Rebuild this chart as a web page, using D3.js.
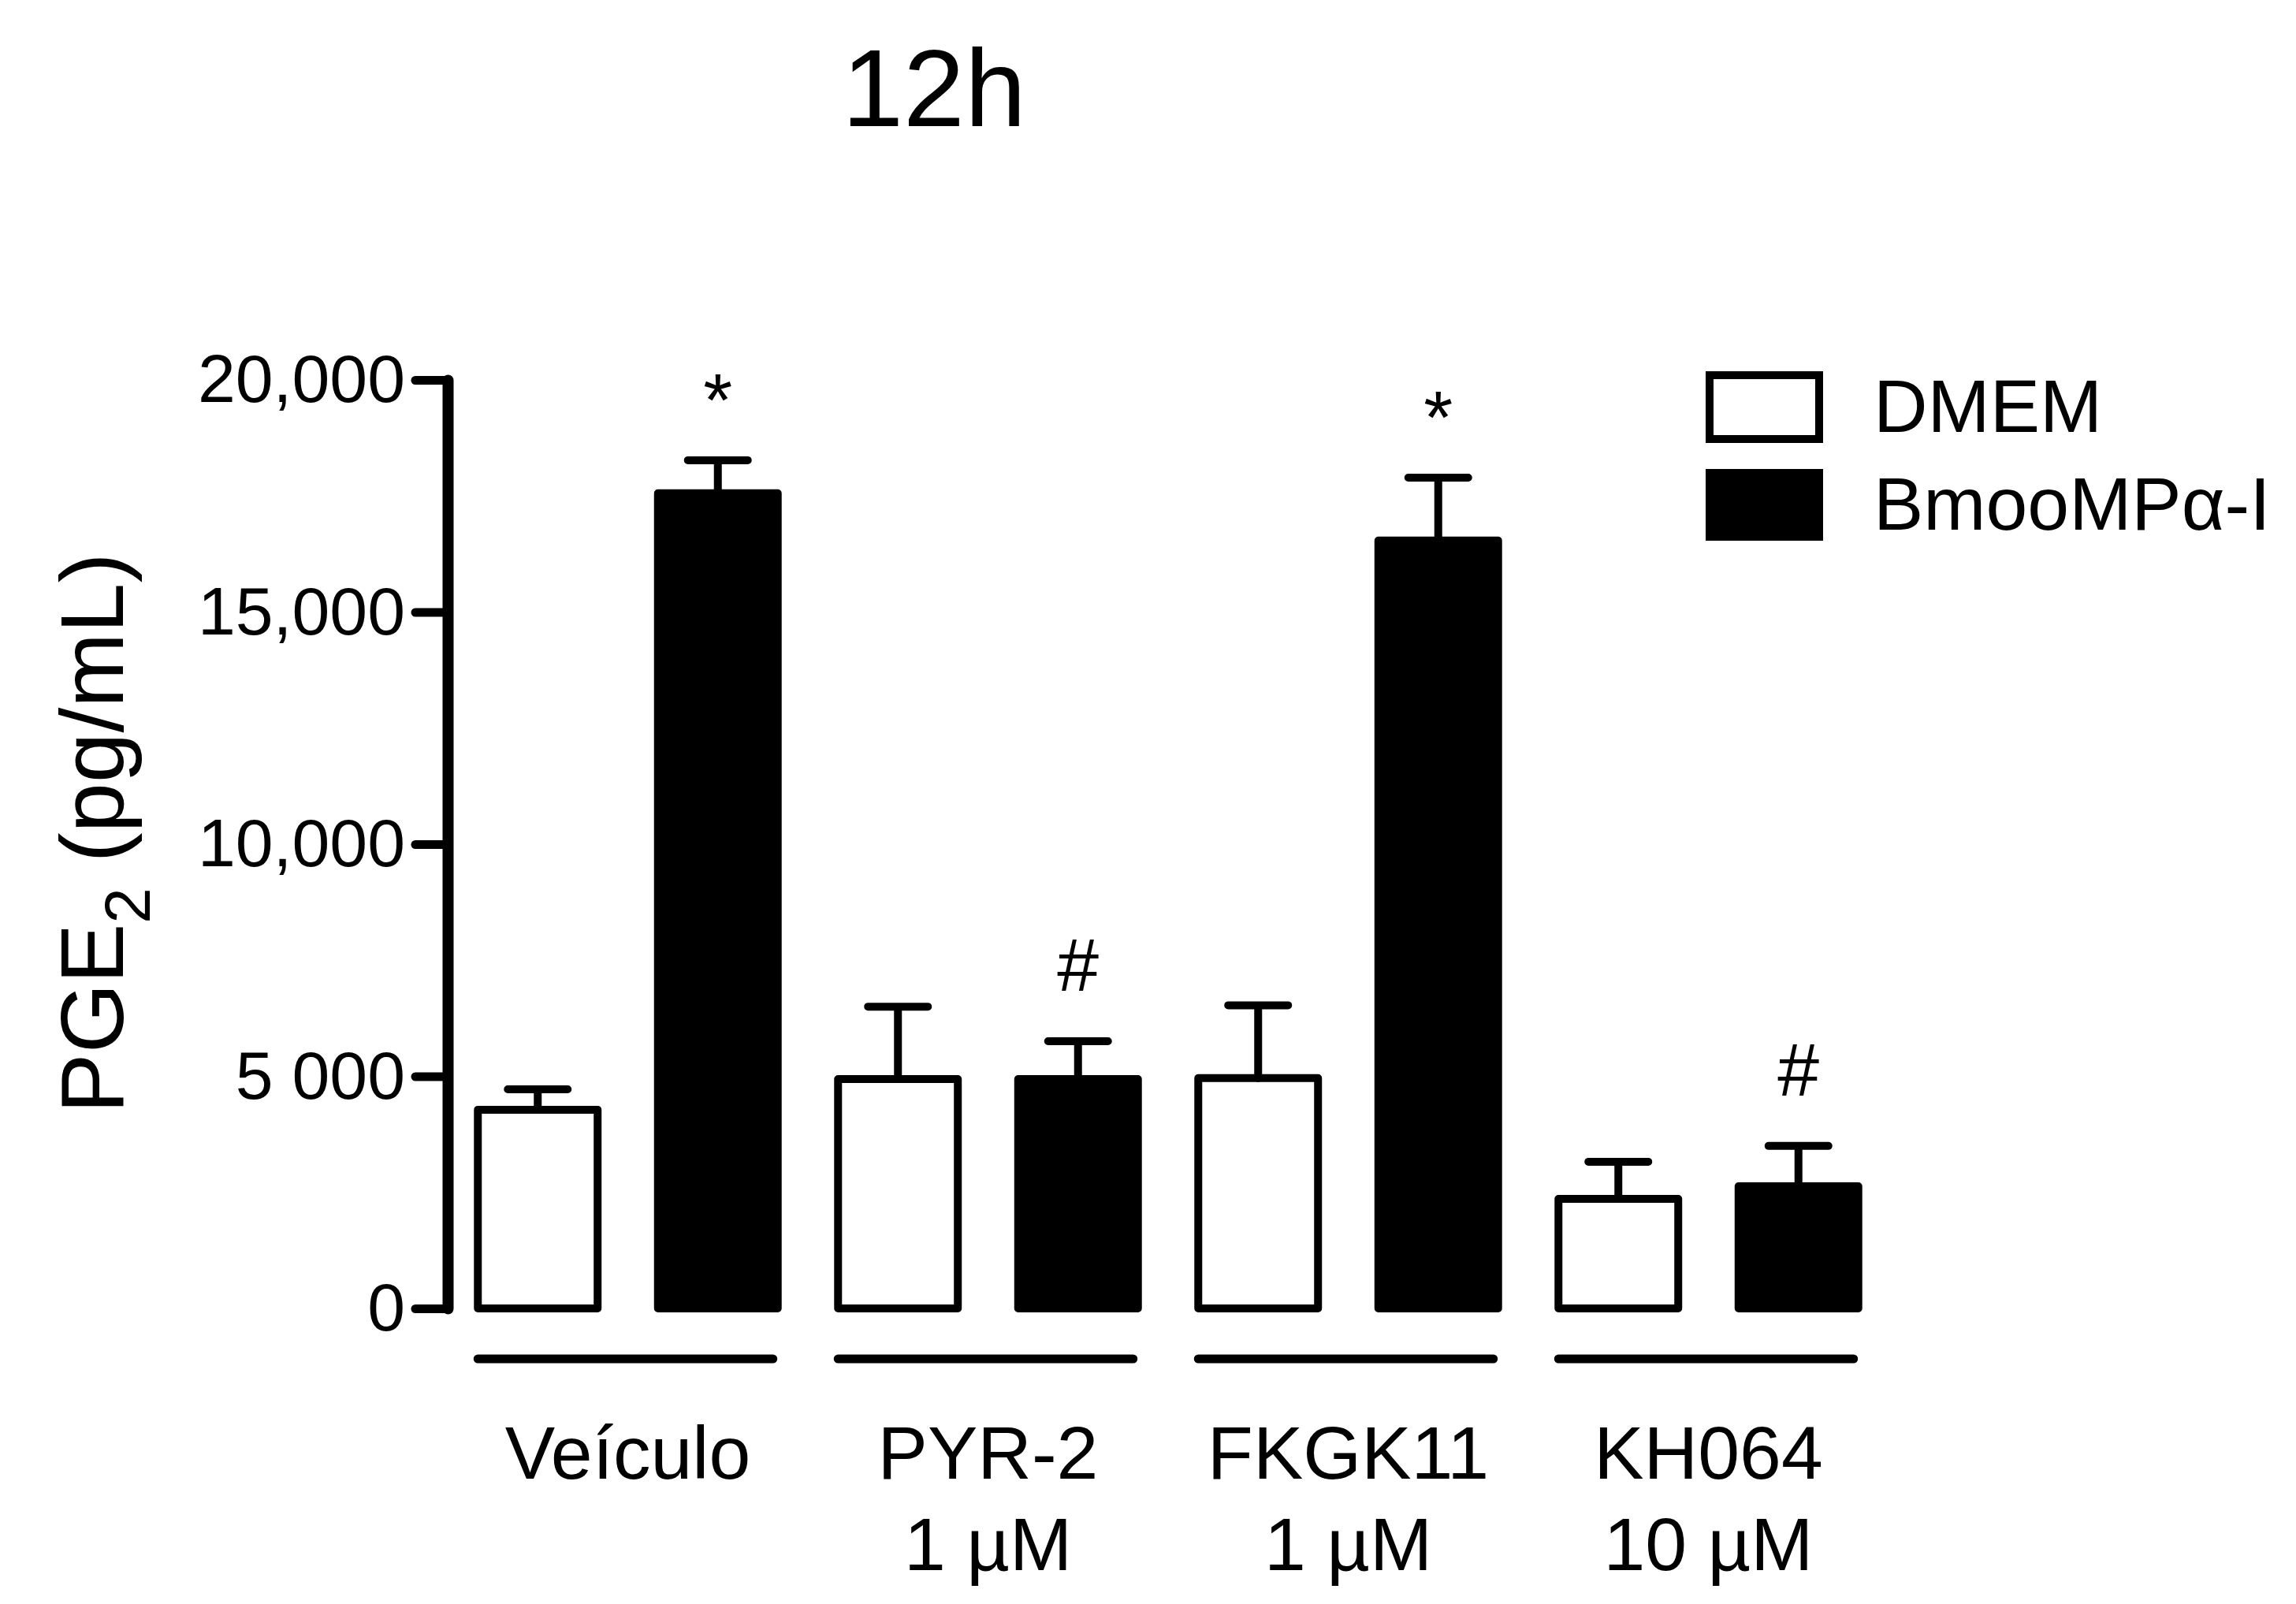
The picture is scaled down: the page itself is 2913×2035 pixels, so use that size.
<!DOCTYPE html>
<html>
<head>
<meta charset="utf-8">
<script src="https://cdn.jsdelivr.net/npm/d3@7"></script>
<style>
  body { margin: 0; background: #fff; }
  text { font-family: "Liberation Sans", Arial, Helvetica, sans-serif; fill: #000; }
</style>
</head>
<body>
<div class="canvas"></div>
<script>
// data
const groups = ['Veículo', 'PYR-2', 'FKGK11', 'KH064'];
const groupSub = ['', '1 µM', '1 µM', '10 µM'];
const series = ['DMEM', 'BmooMPα-I'];
const dmemMean = [4280, 4940, 4960, 2360];
const dmemErr = [440, 1560, 1570, 800];
const bmooMean = [17560, 4940, 16540, 2630];
const bmooErr = [710, 815, 1355, 870];
const dmemMarks = ['', '', '', ''];
const bmooMarks = ['*', '#', '*', '#'];
const tickValues = [0, 5000, 10000, 15000, 20000];
const tickLabels = ['0', '5 000', '10,000', '15,000', '20,000'];

const dims = {width: 2913, height: 2035};

const svg = d3.select('.canvas')
    .append('svg')
    .attr('width', dims.width)
    .attr('height', dims.height);

// scales
const y = d3.scaleLinear().domain([0, 20000]).range([1660, 482]);
const x0 = d3.scaleBand().domain(groups).range([568, 2396]).padding(0);
const x1 = d3.scaleBand().domain(series)
    .range([0, x0.bandwidth()])
    .paddingInner(0.335)
    .paddingOuter(0.1675);
const bw = x1.bandwidth();

// flatten into one row per bar
const bars = [];
groups.forEach((g, i) => {
    bars.push({group: g, s: series[0], mean: dmemMean[i], err: dmemErr[i], mark: dmemMarks[i]});
    bars.push({group: g, s: series[1], mean: bmooMean[i], err: bmooErr[i], mark: bmooMarks[i]});
});
const fillOf = s => s === series[0] ? '#fff' : '#000';
const cx = d => x0(d.group) + x1(d.s) + bw / 2;

// title
svg.append('text')
    .attr('x', 1185).attr('y', 160)
    .attr('text-anchor', 'middle')
    .attr('font-size', 140)
    .text('12h');

// y axis
const yAxis = d3.axisLeft(y)
    .tickValues(tickValues)
    .tickFormat((d, i) => tickLabels[i])
    .tickSize(41)
    .tickSizeOuter(0)
    .tickPadding(13);

const axisG = svg.append('g')
    .attr('transform', 'translate(568,0)')
    .call(yAxis);
axisG.select('.domain')
    .attr('stroke', '#000').attr('stroke-width', 14)
    .attr('stroke-linecap', 'round');
axisG.selectAll('.tick line')
    .attr('stroke', '#000').attr('stroke-width', 11)
    .attr('stroke-linecap', 'round');
axisG.selectAll('.tick text')
    .attr('font-size', 86)
    .attr('font-family', '"Liberation Sans", Arial, Helvetica, sans-serif')
    .attr('fill', '#000');

// y label, rotated
const yLab = svg.append('text')
    .attr('transform', 'translate(156,1057) rotate(-90)')
    .attr('text-anchor', 'middle')
    .style('font-size', '114px');
yLab.append('tspan').text('PGE');
yLab.append('tspan').style('font-size', '82px').attr('dy', 34).text('2');
yLab.append('tspan').style('font-size', '114px').attr('dy', -34).text(' (pg/mL)');

// bars
svg.selectAll('.bar')
    .data(bars)
    .enter()
    .append('rect')
    .attr('class', 'bar')
    .attr('x', d => x0(d.group) + x1(d.s))
    .attr('y', d => y(d.mean))
    .attr('width', bw)
    .attr('height', d => y(0) - y(d.mean))
    .attr('fill', d => fillOf(d.s))
    .attr('stroke', '#000')
    .attr('stroke-width', 10)
    .attr('stroke-linejoin', 'round');

// error bars (upper only)
svg.selectAll('.err')
    .data(bars)
    .enter()
    .append('path')
    .attr('class', 'err')
    .attr('fill', 'none')
    .attr('stroke', '#000')
    .attr('stroke-width', 10)
    .attr('stroke-linecap', 'round')
    .attr('d', d => {
        const top = y(d.mean + d.err);
        return `M${cx(d)},${y(d.mean)}V${top}M${cx(d) - 38},${top}H${cx(d) + 38}`;
    });

// significance marks
const markGap = {'*': 44, '#': 64};
svg.selectAll('.mark')
    .data(bars.filter(d => d.mark))
    .enter()
    .append('text')
    .attr('class', 'mark')
    .attr('x', cx)
    .attr('y', d => y(d.mean + d.err) - markGap[d.mark])
    .attr('text-anchor', 'middle')
    .attr('font-size', 95)
    .text(d => d.mark);

// group underlines and labels
svg.selectAll('.gline')
    .data(groups)
    .enter()
    .append('line')
    .attr('class', 'gline')
    .attr('x1', g => x0(g) + x1(series[0]))
    .attr('x2', g => x0(g) + x1(series[1]) + bw - 6)
    .attr('y1', 1724).attr('y2', 1724)
    .attr('stroke', '#000')
    .attr('stroke-width', 11)
    .attr('stroke-linecap', 'round');

const gMid = g => x0(g) + (x1(series[0]) + x1(series[1]) + bw) / 2;

svg.selectAll('.glabel')
    .data(groups)
    .enter()
    .append('text')
    .attr('class', 'glabel')
    .attr('x', gMid)
    .attr('y', 1876)
    .attr('text-anchor', 'middle')
    .attr('font-size', 95)
    .text(g => g);

svg.selectAll('.gsub')
    .data(groups)
    .enter()
    .append('text')
    .attr('class', 'gsub')
    .attr('x', gMid)
    .attr('y', 1992)
    .attr('text-anchor', 'middle')
    .attr('font-size', 95)
    .text((g, i) => groupSub[i]);

// legend
const legend = svg.append('g').attr('transform', 'translate(2169,476)');
const legItems = legend.selectAll('.leg')
    .data(series)
    .enter()
    .append('g')
    .attr('class', 'leg')
    .attr('transform', (d, i) => `translate(0, ${i * 124})`);

legItems.append('rect')
    .attr('width', 139)
    .attr('height', 81)
    .attr('fill', d => fillOf(d))
    .attr('stroke', '#000')
    .attr('stroke-width', 10);

legItems.append('text')
    .attr('x', 208)
    .attr('y', 72)
    .attr('font-size', 95)
    .text(d => d);
</script>
</body>
</html>
